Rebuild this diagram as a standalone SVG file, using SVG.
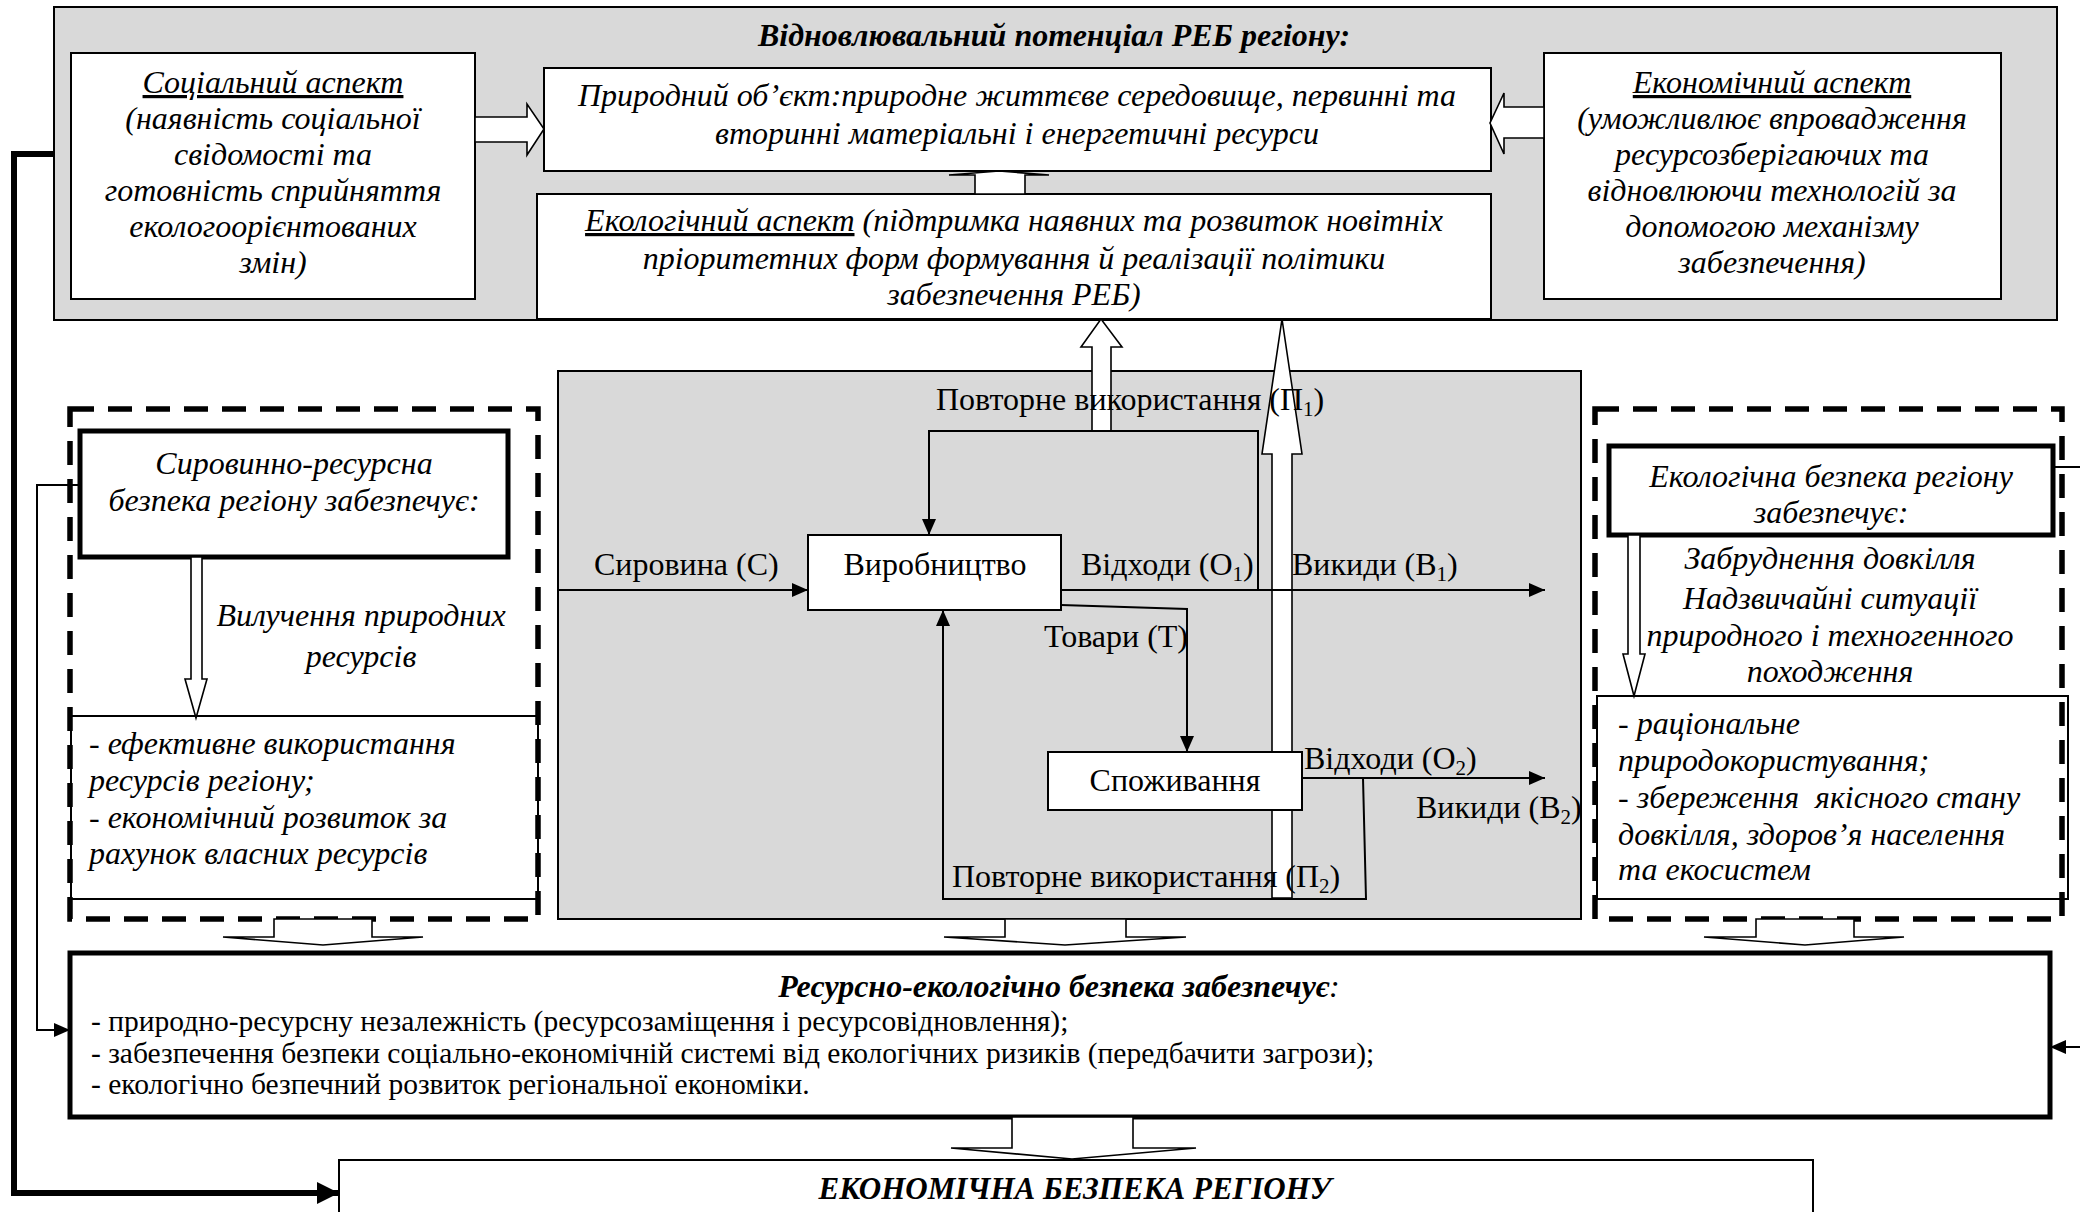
<svg xmlns="http://www.w3.org/2000/svg" width="2080" height="1212" viewBox="0 0 2080 1212">
  <defs>
    <marker id="ah" viewBox="0 0 16 14" refX="16" refY="7" markerWidth="16" markerHeight="14" markerUnits="userSpaceOnUse" orient="auto">
      <path d="M0,0 L16,7 L0,14 Z" fill="#000"/>
    </marker>
    <marker id="ahBig" viewBox="0 0 22 22" refX="22" refY="11" markerWidth="22" markerHeight="22" markerUnits="userSpaceOnUse" orient="auto">
      <path d="M0,0 L22,11 L0,22 Z" fill="#000"/>
    </marker>
    <style>
      .panel { fill: #d9d9d9; stroke: #000; stroke-width: 2; }
      .box { fill: #fff; stroke: #000; stroke-width: 2; }
      .thick { fill: #fff; stroke: #000; stroke-width: 5; }
      .dash { fill: none; stroke: #000; stroke-width: 5.5; stroke-dasharray: 24 14; }
      .block { fill: #fff; stroke: #000; stroke-width: 1.6; stroke-linejoin: miter; }
      .line { fill: none; stroke: #000; stroke-width: 2; }
      .t { font-family: "Liberation Serif", "Times New Roman", serif; fill: #000; }
      .it { font-style: italic; }
      .b { font-weight: bold; }
      .c { text-anchor: middle; }
      .s32 { font-size: 32px; }
      .s31 { font-size: 31px; }
      .s29 { font-size: 29.5px; }
      .u { text-decoration: underline; }
    </style>
  </defs>

  <!-- Top panel: renewable potential -->
  <g id="potential">
    <rect class="panel" x="54" y="7" width="2003" height="313"/>
    <text class="t it b c s32" x="1054" y="46">Відновлювальний потенціал РЕБ регіону:</text>
  </g>

  <g id="social">
    <rect class="box" x="71" y="53" width="404" height="246"/>
    <text class="t it c s32" x="273" y="93"><tspan class="u">Соціальний аспект</tspan></text>
    <text class="t it c s32" x="273" y="129">(наявність соціальної</text>
    <text class="t it c s32" x="273" y="165">свідомості та</text>
    <text class="t it c s32" x="273" y="201">готовність сприйняття</text>
    <text class="t it c s32" x="273" y="237">екологоорієнтованих</text>
    <text class="t it c s32" x="273" y="273">змін)</text>
  </g>

  <g id="natural-object">
    <rect class="box" x="544" y="68" width="947" height="103"/>
    <text class="t it c s32" x="1017" y="106">Природний об’єкт:природне життєве середовище, первинні та</text>
    <text class="t it c s32" x="1017" y="144">вторинні матеріальні і енергетичні ресурси</text>
  </g>

  <g id="economic">
    <rect class="box" x="1544" y="53" width="457" height="246"/>
    <text class="t it c s32" x="1772" y="93"><tspan class="u">Економічний аспект</tspan></text>
    <text class="t it c s32" x="1772" y="129">(уможливлює впровадження</text>
    <text class="t it c s32" x="1772" y="165">ресурсозберігаючих та</text>
    <text class="t it c s32" x="1772" y="201">відновлюючи технологій за</text>
    <text class="t it c s32" x="1772" y="237">допомогою механізму</text>
    <text class="t it c s32" x="1772" y="273">забезпечення)</text>
  </g>

  <g id="ecological-aspect">
    <rect class="box" x="537" y="194" width="954" height="125"/>
    <text class="t it c s32" x="1014" y="231"><tspan class="u">Екологічний аспект</tspan> (підтримка наявних та розвиток новітніх</text>
    <text class="t it c s32" x="1014" y="269">пріоритетних форм формування й реалізації політики</text>
    <text class="t it c s32" x="1014" y="305">забезпечення РЕБ)</text>
  </g>

  <!-- Block arrows inside the top panel -->
  <g id="panel-arrows">
    <polygon class="block" points="475,117 527,117 527,104 544,129 527,155 527,142 475,142"/>
    <polygon class="block" points="1544,107 1504,107 1504,93 1490,123 1504,154 1504,138 1544,138"/>
    <polygon class="block" points="975,194 975,175 949,175 999,171 1049,175 1025,175 1025,194"/>
  </g>

  <!-- Left dashed block: raw-material security -->
  <g id="raw-security">
    <rect class="box" x="71" y="716" width="467" height="183" stroke-width="1.6"/>
    <rect class="thick" x="80" y="431" width="428" height="126"/>
    <text class="t it c s32" x="294" y="474">Сировинно-ресурсна</text>
    <text class="t it c s32" x="294" y="511">безпека регіону забезпечує:</text>
    <polygon class="block" points="191,557 191,679 185,679 196,718 207,679 202,679 202,557"/>
    <text class="t it c s32" x="361" y="626">Вилучення природних</text>
    <text class="t it c s32" x="361" y="667">ресурсів</text>
    <text class="t it s32" x="89" y="754">- ефективне використання</text>
    <text class="t it s32" x="89" y="791">ресурсів регіону;</text>
    <text class="t it s32" x="89" y="828">- економічний розвиток за</text>
    <text class="t it s32" x="89" y="864">рахунок власних ресурсів</text>
    <rect class="dash" x="70" y="409" width="468" height="510"/>
  </g>

  <!-- Right dashed block: ecological security -->
  <g id="eco-security">
    <rect class="box" x="1597" y="696" width="471" height="203" stroke-width="1.6"/>
    <rect class="thick" x="1609" y="446" width="444" height="89"/>
    <text class="t it c s32" x="1831" y="487">Екологічна безпека регіону</text>
    <text class="t it c s32" x="1831" y="523">забезпечує:</text>
    <polygon class="block" points="1628,535 1628,654 1623,654 1634,696 1645,654 1640,654 1640,535"/>
    <text class="t it c s32" x="1830" y="569">Забруднення довкілля</text>
    <text class="t it c s32" x="1830" y="609">Надзвичайні ситуації</text>
    <text class="t it c s32" x="1830" y="646">природного і техногенного</text>
    <text class="t it c s32" x="1830" y="682">походження</text>
    <text class="t it s32" x="1618" y="734">- раціональне</text>
    <text class="t it s32" x="1618" y="771">природокористування;</text>
    <text class="t it s32" x="1618" y="808" xml:space="preserve">- збереження  якісного стану</text>
    <text class="t it s32" x="1618" y="845">довкілля, здоров’я населення</text>
    <text class="t it s32" x="1618" y="880">та екосистем</text>
    <rect class="dash" x="1595" y="409" width="467" height="510"/>
  </g>

  <!-- Middle panel: production and consumption cycle -->
  <g id="cycle">
    <rect class="panel" x="558" y="371" width="1023" height="548"/>
    <!-- upward reuse arrows into the ecological aspect -->
    <polygon class="block" points="1092,431 1092,347 1081,347 1101,319 1122,347 1111,347 1111,431"/>
    <polygon class="block" points="1272,898 1272,454 1262,454 1282,319 1302,454 1292,454 1292,898"/>
  </g>

  <g id="production">
    <rect class="box" x="808" y="535" width="253" height="75"/>
    <text class="t c s32" x="935" y="575">Виробництво</text>
  </g>

  <g id="consumption">
    <rect class="box" x="1048" y="752" width="254" height="58"/>
    <text class="t c s32" x="1175" y="791">Споживання</text>
  </g>

  <g id="result">
    <rect class="thick" x="70" y="953" width="1980" height="164"/>
    <text class="t it b c s32" x="1059" y="997">Ресурсно-екологічно безпека забезпечує<tspan font-weight="normal">:</tspan></text>
    <text class="t s29" x="91" y="1031">- природно-ресурсну незалежність (ресурсозаміщення і ресурсовідновлення);</text>
    <text class="t s29" x="91" y="1063">- забезпечення безпеки соціально-економічній системі від екологічних ризиків (передбачити загрози);</text>
    <text class="t s29" x="91" y="1094">- екологічно безпечний розвиток регіональної економіки.</text>
  </g>

  <g id="economic-security">
    <rect class="box" x="339" y="1160" width="1474" height="60" stroke-width="3"/>
    <text class="t it b c s31" x="1075" y="1199">ЕКОНОМІЧНА БЕЗПЕКА РЕГІОНУ</text>
  </g>

  <!-- Connectors -->
  <g id="connectors">
    <!-- block arrows between levels -->
    <polygon class="block" points="274,919 274,937 223,937 323,945 423,937 372,937 372,919"/>
    <polygon class="block" points="1005,919 1005,937 944,937 1065,945 1186,937 1126,937 1126,919"/>
    <polygon class="block" points="1756,919 1756,937 1704,937 1805,945 1904,937 1854,937 1854,919"/>
    <polygon class="block" points="1012,1117 1012,1148 951,1148 1072,1159 1196,1148 1133,1148 1133,1117"/>

    <!-- flows in the cycle -->
    <path class="line" d="M558,590 H808" marker-end="url(#ah)"/>
    <path class="line" d="M1061,590 H1545" marker-end="url(#ah)"/>
    <path class="line" d="M1258,590 V431 H929 V535" marker-end="url(#ah)"/>
    <path class="line" d="M1061,605 L1187,609 V752" marker-end="url(#ah)"/>
    <path class="line" d="M1302,778 H1545" marker-end="url(#ah)"/>
    <path class="line" d="M1363,778 L1366,899 H943 V610" marker-end="url(#ah)"/>

    <!-- links to the summary boxes -->
    <path d="M54,154 H14 V1193 H339" fill="none" stroke="#000" stroke-width="6" marker-end="url(#ahBig)"/>
    <path class="line" d="M80,485 H37 V1030 H70" marker-end="url(#ah)"/>
    <path class="line" d="M2053,467 H2095 V1047 H2050" marker-end="url(#ah)"/>
  </g>

  <!-- Flow labels -->
  <g id="labels">
    <text class="t s32" x="936" y="410">Повторне використання (П<tspan font-size="21" dy="6">1</tspan><tspan dy="-6">)</tspan></text>
    <text class="t s32" x="594" y="575">Сировина (С)</text>
    <text class="t s32" x="1081" y="575">Відходи (О<tspan font-size="21" dy="6">1</tspan><tspan dy="-6">)</tspan></text>
    <text class="t s32" x="1292" y="575">Викиди (В<tspan font-size="21" dy="6">1</tspan><tspan dy="-6">)</tspan></text>
    <text class="t s32" x="1044" y="647">Товари (Т)</text>
    <text class="t s32" x="1304" y="769">Відходи (О<tspan font-size="21" dy="6">2</tspan><tspan dy="-6">)</tspan></text>
    <text class="t s32" x="1416" y="818">Викиди (В<tspan font-size="21" dy="6">2</tspan><tspan dy="-6">)</tspan></text>
    <text class="t s32" x="952" y="887">Повторне використання (П<tspan font-size="21" dy="6">2</tspan><tspan dy="-6">)</tspan></text>
  </g>
</svg>
